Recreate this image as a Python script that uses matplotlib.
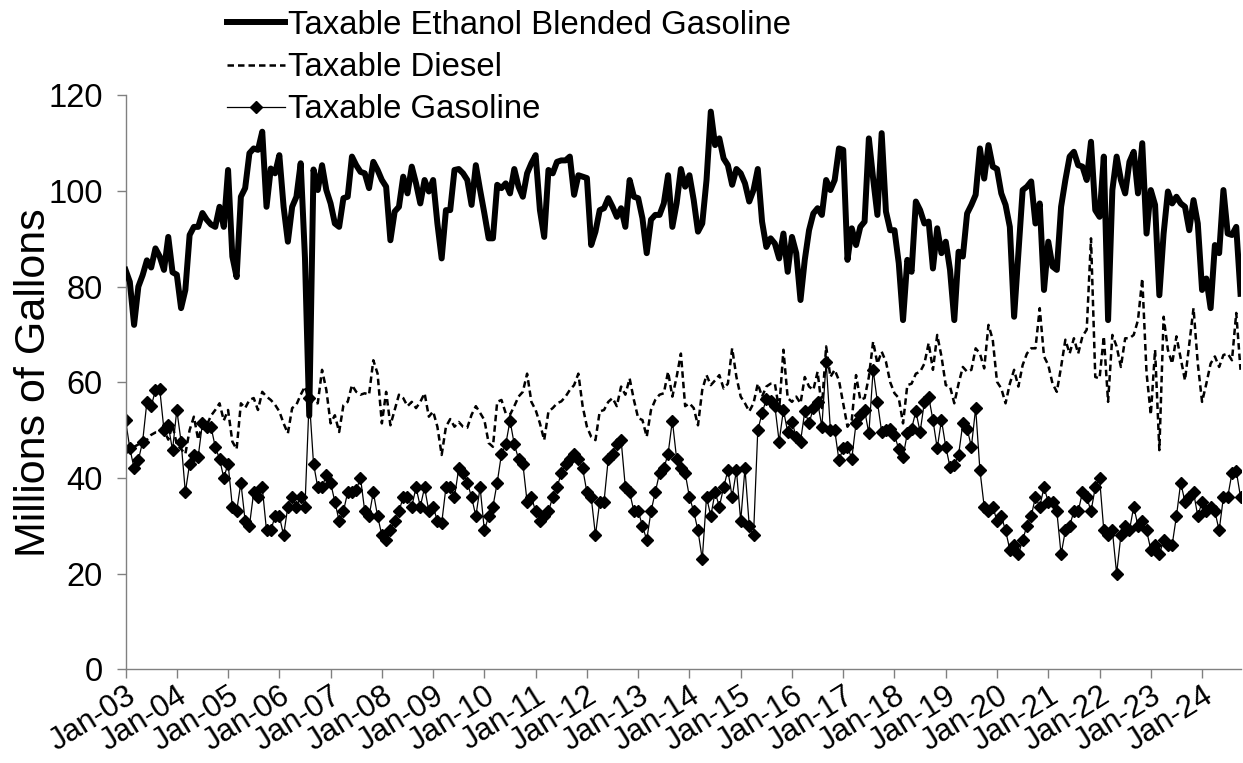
import matplotlib
matplotlib.use("Agg")
import matplotlib.pyplot as plt
import numpy as np

plt.rcParams['font.family'] = ['Liberation Sans', 'DejaVu Sans']

# Monthly values, Jan 2003 .. Oct 2024 (millions of gallons)
ethanol = [
  83.5, 81, 72, 80, 82.4, 85.5, 84, 88, 86.3, 83.5, 90.4, 83,
  82.5, 75.5, 79.3, 90.8, 92.5, 92.5, 95.4, 94, 93, 92.5, 96.7, 92.5,
  104.4, 86.3, 82, 98.8, 100.6, 107.9, 108.9, 108.6, 112.4, 96.7, 104.7, 103.7,
  107.5, 96.7, 89.4, 96.7, 98.8, 105.8, 86, 53, 104.5, 100.2, 105.4, 100.2,
  97.4, 93.2, 92.5, 98.5, 98.8, 107.2, 105.4, 104, 103.7, 100.6, 106.1, 104.4,
  102.3, 100.9, 89.7, 95.7, 96.7, 103, 99.5, 105.1, 101.6, 97.4, 102.3, 99.9,
  102.3, 93.2, 85.9, 96, 96, 104.4, 104.6, 103.7, 102.3, 97.1, 105.4, 100.2,
  95.3, 90.1, 90.1, 101.3, 100.6, 101.6, 99.5, 104.6, 100.9, 98.8, 103.7, 105.8,
  107.5, 96, 90.4, 104.4, 103.7, 106.1, 106.4, 106.4, 107.2, 99.2, 103.3, 103,
  102.7, 88.7, 91.5, 96, 96.4, 98.5, 96.7, 94.6, 96.4, 92.5, 102.3, 98.8,
  98.5, 94.3, 87, 94, 95, 95, 97.4, 103.3, 92.5, 97.4, 104.6, 100.9,
  103.3, 98.1, 91.5, 93.2, 102.3, 116.6, 109.6, 111, 106.8, 105.4, 101.3, 104.6,
  103.7, 101.6, 97.8, 100.2, 104.6, 93.6, 88.3, 90.1, 89, 85.9, 91.1, 83.1,
  90.4, 87, 77.2, 85.6, 91.8, 95.3, 96.4, 95, 102.3, 100.2, 102.3, 108.9,
  108.6, 85.6, 92.2, 88.7, 92.5, 93.6, 111, 102.6, 95, 112.1, 95.7, 91.8,
  91.8, 84.9, 73, 85.6, 83.1, 97.8, 96, 93.2, 93.6, 83.8, 92.2, 87,
  89.4, 83.5, 73, 87.3, 86.3, 95.3, 97.1, 99.2, 108.9, 102.6, 109.6, 105.1,
  104.6, 99.5, 97.1, 92.5, 73.7, 87, 100.2, 100.9, 102, 93.2, 97.4, 79.3,
  89.4, 84.2, 83.5, 96.7, 102.3, 107.2, 108.2, 105.4, 105.1, 102.3, 110.3, 96,
  94.6, 107.2, 73, 100.2, 107.2, 102.3, 99.5, 106.1, 108.2, 99.5, 110, 91.1,
  100.2, 97.1, 78.2, 91.1, 99.9, 97.4, 98.8, 97.4, 96.7, 91.8, 98.1, 93.2,
  79.3, 81.7, 75.5, 88.7, 87, 100.2, 91.1, 90.8, 92.5, 78.5,
]

diesel = [
  45, 46, 46.5, 47, 47.5, 48, 49, 49.5, 49.5, 50, 48, 51,
  47, 46, 45, 50, 52.8, 48, 51.4, 51, 53, 54.2, 55.6, 52,
  54.2, 47.6, 46, 55.6, 54.6, 56.3, 56.7, 54.2, 58, 57, 56.3, 55.3,
  53.9, 51.4, 49.3, 54.6, 55.3, 57.4, 59.1, 56.3, 55.6, 55.6, 62.6, 58.4,
  51.4, 53.1, 49.6, 55.2, 55.9, 59.4, 58, 57.4, 57.7, 57.4, 64.6, 61.8,
  51.4, 58, 51, 54.2, 57.4, 56.7, 55, 55.9, 54.6, 55.9, 57.7, 52.8,
  53.9, 50.7, 44.8, 50.7, 52.3, 50.7, 51.7, 50.7, 50.5, 53.2, 55, 53.6,
  52.1, 47.3, 46.5, 55.9, 56.3, 53.5, 53.2, 55, 57, 58, 61.8, 55.9,
  54.2, 51.4, 47.9, 53.9, 54.6, 55.6, 56, 57, 58.4, 59.4, 61.8, 55,
  50.7, 48.6, 47.9, 53.9, 54.2, 55.9, 56.7, 55, 59.1, 57.4, 60.8, 56.3,
  52.5, 52.1, 48.6, 54.2, 56.3, 57.4, 57.7, 62.2, 57, 61.1, 66, 55,
  55.6, 54.6, 51, 58.4, 61.5, 59.4, 60.4, 61.5, 58.7, 59.7, 67.1, 61.1,
  57, 55.6, 53.9, 55.6, 59.7, 57, 59.1, 59.7, 59.7, 54.2, 66.8, 56.7,
  55.9, 57, 55.6, 61.1, 59.1, 58.4, 62.2, 54.6, 67.5, 61.1, 62.6, 60.4,
  55.6, 50.7, 52.1, 61.5, 56.3, 56.7, 61.1, 68.5, 63.9, 66.4, 64.3, 60,
  57.7, 56.7, 51.4, 59.4, 59.7, 61.8, 62.2, 63.9, 68.2, 62.6, 69.9, 65.4,
  59.4, 59.1, 55.6, 59.7, 63.2, 62.2, 62.6, 67.1, 66, 62.9, 72, 68.9,
  60.1, 58.7, 55.6, 59.7, 62.6, 59.1, 63.6, 66, 67.1, 67.1, 75.5, 65.4,
  63.6, 59.7, 58, 63.2, 68.9, 66, 69.2, 66, 69.6, 71, 90.1, 61.1,
  60.8, 69.6, 55.9, 69.9, 67.5, 63.2, 69.2, 69.2, 69.9, 73, 81.7, 62,
  53.2, 66.8, 45.8, 73.7, 66.8, 63.9, 69.6, 65, 60.4, 68, 75.5, 63.9,
  55.9, 59.7, 63.9, 65.4, 63.2, 65.7, 66, 64.6, 74.5, 62.6,
]

gasoline = [
  52.1, 46.2, 42, 43.7, 47.6, 55.9, 55, 58.3, 58.6, 50, 51, 45.8,
  54.2, 47.6, 37, 43, 44.8, 44.4, 51.4, 50.7, 50.7, 46.5, 44, 40,
  43, 34, 33, 39, 31, 30, 37, 36, 38, 29, 29, 32,
  32, 28, 34, 36, 34, 36, 34, 56.7, 43, 38, 38, 40.6,
  39, 35, 31, 33, 37, 37, 37.5, 40, 33, 32, 37, 32,
  28, 27, 29, 31, 33, 36, 36, 34, 38, 34, 38, 33,
  34, 31, 30.5, 38, 38, 36, 42, 41, 39, 36, 32, 38,
  29, 32, 34, 39, 45, 47, 52, 47, 44, 43, 35, 36,
  33, 31, 32, 33, 36, 38, 41, 43, 44, 45, 44, 42,
  37, 36, 28, 35, 35, 44, 45, 47, 48, 38, 37, 33,
  33, 30, 27, 33, 37, 41, 42, 45, 52, 44, 42, 41,
  36, 33, 29, 23, 36, 32, 37, 34, 38, 41.6, 36, 41.6,
  31, 42, 30, 28, 50, 53.5, 56.5, 56, 55, 47.6, 54.2, 49.6,
  51.7, 48.6, 47.6, 53.9, 51.4, 54.6, 55.9, 50.7, 64.3, 50, 50, 43.7,
  46.2, 46.5, 44, 51.4, 53.2, 54.2, 49.3, 62.6, 55.9, 49.6, 50, 50.3,
  49, 46, 44.4, 49.3, 50.3, 53.9, 49.6, 55.9, 57, 52.1, 46.2, 52.1,
  46.5, 42.3, 42.7, 44.8, 51.4, 50.3, 46.5, 54.6, 41.6, 34, 33, 34,
  31, 32, 29, 25, 26, 24, 27, 30, 32, 36, 34, 38,
  35, 35, 33, 24, 29, 30, 33, 33, 37, 36, 33, 38,
  40, 29, 28, 29, 20, 28, 30, 29, 34, 30, 31, 29,
  25, 26, 24, 27, 26, 26, 32, 39, 35, 36, 37, 32,
  35, 33, 34, 33, 29, 36, 36, 41, 41.5, 36,
]

tick_labels = ["Jan-%02d" % y for y in range(3, 25)]

months = np.arange(len(ethanol))

fig = plt.figure(figsize=(12.43, 7.63), dpi=100)
ax = fig.add_axes([0.101, 0.123, 0.897, 0.752])

ax.plot(months, ethanol, color='black', lw=4.3, solid_joinstyle='round',
  label="Taxable Ethanol Blended Gasoline", zorder=3)
ax.plot(months, diesel, color='black', lw=1.8, dashes=(2.6, 1.6),
  label="Taxable Diesel", zorder=2)
ax.plot(months, gasoline, color='black', lw=0.9, marker='D', ms=6,
  label="Taxable Gasoline", zorder=2)

ax.set_xlim(0, len(ethanol) - 1)
ax.set_ylim(0, 120)
ax.set_yticks(range(0, 121, 20))
ax.set_xticks(np.arange(0, len(ethanol), 12))
ax.set_xticklabels(tick_labels, rotation=32, ha='right', va='top',
  rotation_mode='anchor', fontsize=22.5)

for s in ['top', 'right']:
  ax.spines[s].set_visible(False)
for s in ['left', 'bottom']:
  ax.spines[s].set_color('#808080')
  ax.spines[s].set_linewidth(1.0)
ax.tick_params(axis='both', direction='out', length=6.5, width=1.0,
  color='#808080')
ax.tick_params(axis='y', pad=10, labelsize=23.5)
ax.tick_params(axis='x', pad=2)

ax.set_ylabel("Millions of Gallons", fontsize=31, labelpad=-4.5)

fig.legend(loc='upper left', bbox_to_anchor=(0.183, 0.987), frameon=False,
  fontsize=23.7, handlelength=1.75, handletextpad=0.1, labelspacing=0.34,
  borderpad=0, borderaxespad=0)

plt.savefig("out.png", dpi=100)
